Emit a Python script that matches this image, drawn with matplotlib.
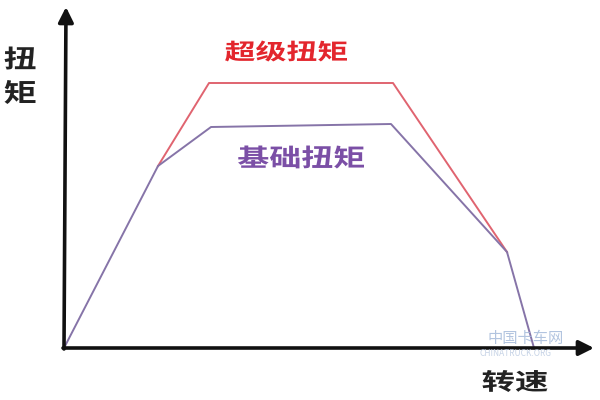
import matplotlib.pyplot as plt
from matplotlib.font_manager import FontProperties
from matplotlib.patches import PathPatch
from matplotlib.textpath import TextPath
from matplotlib.transforms import Affine2D

plt.rcParams['font.family'] = ['Noto Sans CJK SC', 'DejaVu Sans']

# engine speed (arbitrary units) and torque for both curves
base_speed = [0, 94, 147, 327, 443, 470]
base_torque = [0, 182, 221, 224, 96, 0]
super_speed = [94, 145, 329, 443]
super_torque = [182, 265, 265, 96]

base_label = "基础扭矩"
super_label = "超级扭矩"
y_label = ["扭", "矩"]
x_label = "转速"

bold_cjk = FontProperties(family='Noto Sans CJK SC', weight='bold')


def wide_text(ax, cx, cy, s, w, h, color):
    # the original glyphs are stretched sideways, so draw them as paths
    tp = TextPath((0, 0), s, size=20, prop=bold_cjk)
    ext = tp.get_extents()
    tr = (Affine2D().translate(-ext.x0 - ext.width / 2, -ext.y0 - ext.height / 2)
          .scale(w / ext.width, h / ext.height).translate(cx, cy))
    ax.add_patch(PathPatch(tr.transform_path(tp), facecolor=color, edgecolor='none'))


def main():
    fig = plt.figure(figsize=(6, 4), dpi=100)
    ax = fig.add_axes([0, 0, 1, 1])
    ax.set_xlim(-64, 536)
    ax.set_ylim(-52, 348)
    ax.axis('off')

    # axes with arrow heads
    arrow = dict(arrowstyle='-|>,head_length=0.9,head_width=0.45', lw=2.6, color='#111111',
                 shrinkA=0, shrinkB=0)
    ax.annotate('', xy=(530, 0), xytext=(-1, 0), arrowprops=arrow)
    ax.annotate('', xy=(2, 341), xytext=(0, -1), arrowprops=arrow)

    ax.plot(super_speed, super_torque, color='#e06470', lw=1.4)
    ax.plot(base_speed, base_torque, color='#8674a8', lw=1.4)

    wide_text(ax, 222, 297, super_label, 122, 21, '#e3262d')
    wide_text(ax, 237, 191, base_label, 126, 23, '#7b4fa6')
    wide_text(ax, -44, 290, y_label[0], 31, 23, '#222222')
    wide_text(ax, -44, 256, y_label[1], 31, 24, '#222222')
    wide_text(ax, 451, -33, x_label, 65, 22, '#222222')

    # faint watermark
    ax.text(462, 9, "中国卡车网", color='#9fb6d8', fontsize=11, alpha=0.8,
            ha='center', va='center')
    ax.text(452, -5, "CHINATRUCK.ORG", color='#b8c8e0', fontsize=6, alpha=0.8,
            ha='center', va='center')

    fig.savefig('out.png', dpi=100, facecolor='white')


if __name__ == '__main__':
    main()
